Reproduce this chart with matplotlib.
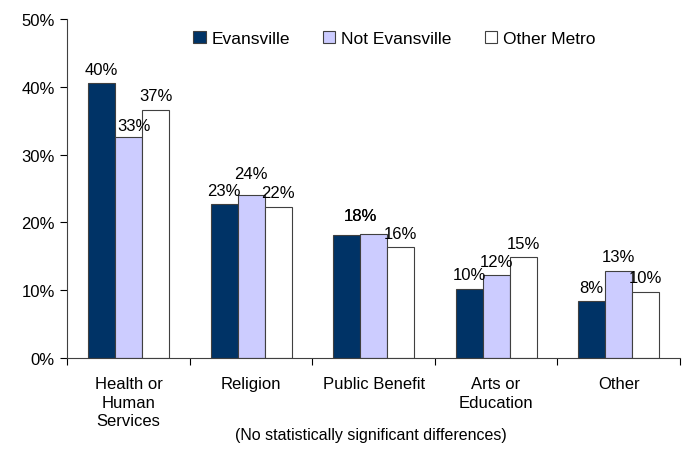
import numpy as np
import matplotlib.pyplot as plt

plt.rcParams['font.family'] = ['Liberation Sans', 'DejaVu Sans']

categories = ['Health or\nHuman\nServices', 'Religion', 'Public Benefit', 'Arts or\nEducation', 'Other']
series = ['Evansville', 'Not Evansville', 'Other Metro']
evansville = [40.5, 22.7, 18.1, 10.2, 8.4]
not_evansville = [32.6, 24.0, 18.3, 12.2, 12.9]
other_metro = [36.6, 22.3, 16.3, 14.9, 9.8]
labels = [['40%', '23%', '18%', '10%', '8%'],
          ['33%', '24%', '18%', '12%', '13%'],
          ['37%', '22%', '16%', '15%', '10%']]
colors = ['#003366', '#CCCCFF', '#FFFFFF']

# label nudges in points (dx, dy) where the original labels were shuffled to avoid overlaps
nudge = {(1, 0): (4, -2), (1, 1): (0, 6)}
# categories where the first two series labels sit on top of each other
shared = {2: 3}

fig = plt.figure(figsize=(6.86, 4.52), dpi=100)
ax = fig.add_axes([0.0981, 0.2058, 0.893, 0.75])

x = np.arange(len(categories))
w = 0.22
data = [evansville, not_evansville, other_metro]
for i, (vals, name) in enumerate(zip(data, series)):
    pos = x + (i - 1) * w
    ax.bar(pos, vals, w, color=colors[i], edgecolor='#404040', linewidth=0.8, label=name)
    for j, (p, v, t) in enumerate(zip(pos, vals, labels[i])):
        dx, dy = nudge.get((i, j), (0, 0))
        if j in shared and i < 2:
            p = x[j] - w / 2
            v = max(data[0][j], data[1][j])
            dy = shared[j]
        ax.annotate(t, (p, v), xytext=(dx, 10 + dy), textcoords='offset points',
                    ha='center', va='center', fontsize=12)

ax.set_xlim(-0.5, len(categories) - 0.5)
ax.set_ylim(0, 50)
ax.set_yticks(range(0, 51, 10))
ax.set_yticklabels([f'{v}%' for v in range(0, 51, 10)], fontsize=12)
ax.set_xticks(np.arange(len(categories) + 1) - 0.5)
ax.set_xticklabels([])
ax.set_xticks(x, minor=True)
ax.set_xticklabels(categories, minor=True, fontsize=12, linespacing=1.3, va='top')
ax.tick_params(axis='x', which='minor', length=0, pad=13)
ax.tick_params(axis='x', which='major', length=5, direction='out')
ax.tick_params(axis='y', length=5, direction='out', pad=4)
for s in ['top', 'right']:
    ax.spines[s].set_visible(False)
for s in ['left', 'bottom']:
    ax.spines[s].set_color('#404040')

ax.legend(loc='center', bbox_to_anchor=(0.575, 0.913), bbox_transform=fig.transFigure, ncol=3,
          frameon=False, fontsize=12.5, handlelength=0.7, handleheight=0.7,
          handletextpad=0.35, columnspacing=1.9, borderpad=0)

fig.text(0.54, 0.027, '(No statistically significant differences)', ha='center', fontsize=11.5)

fig.savefig('out.png', dpi=100)
